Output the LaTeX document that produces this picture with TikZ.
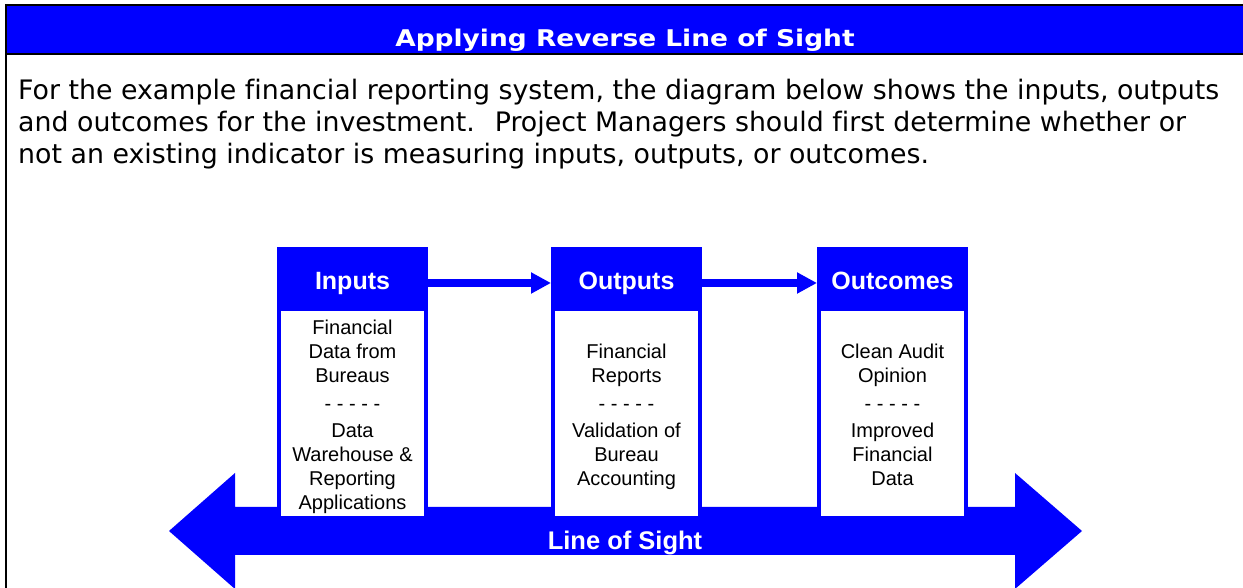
\documentclass[tikz,border=0pt]{standalone}
\usepackage{fontspec}
\setmainfont{Liberation Sans}
\newfontfamily\introfont{DejaVu Sans}[Ligatures=NoCommon]
\newfontfamily\titlefont{DejaVu Sans}[FakeStretch=1.15]
\usetikzlibrary{positioning,arrows.meta}
\definecolor{sightblue}{RGB}{0,0,255}

\begin{document}
\begin{tikzpicture}[%
    x=1pt, y=1pt,                          % work in points, origin bottom left
    >={Triangle[length=20pt,width=20pt]},  % fat heads for the flow arrows
    ]
% -------------------------------------------------
% Box styles: a blue heading with a framed white body under it
\tikzset{
  head/.style={fill=sightblue, text=white, outer sep=0pt,
    minimum width=151pt, minimum height=64pt, text height=22pt, text depth=0pt,
    font=\fontsize{25}{28}\selectfont\bfseries},
  body/.style={draw=sightblue, line width=4pt, fill=white,
    minimum width=147pt, minimum height=209pt},
  bodytext/.style={align=center, font=\fontsize{20}{24}\selectfont},
  flow/.style={->, draw=sightblue, line width=8pt},
  banner/.style={text=white, text depth=0pt,
    font=\titlefont\fontsize{23}{28}\selectfont\bfseries},
}
\useasboundingbox (0,0) rectangle (1243,588);
% -------------------------------------------------
% Banner and frame
\fill[sightblue] (6,583) rectangle (1243,534);
\draw[line width=2.5pt] (6,0) -- (6,583) -- (1243,583);
\draw[line width=2.5pt] (6,534) -- (1243,534);
\node[banner] (title) at (625,550) {Applying Reverse Line of Sight};
\node[anchor=north west, inner sep=0pt, align=left,
      font=\introfont\fontsize{26.8}{32}\selectfont] (intro) at (18,509)
  {For the example financial reporting system, the diagram below shows the inputs, outputs\\
   and outcomes for the investment.~ Project Managers should first determine whether or\\
   not an existing indicator is measuring inputs, outputs, or outcomes.};
% -------------------------------------------------
% The big two-way arrow along the bottom
\fill[sightblue] (169,57) -- (235,115) -- (235,81) -- (1015,81) -- (1015,115)
  -- (1082,57) -- (1015,-1) -- (1015,33) -- (235,33) -- (235,-1) -- cycle;
\node[text=white, text depth=0pt, font=\fontsize{25.5}{28}\selectfont\bfseries]
  (sight) at (625,48) {Line of Sight};
% -------------------------------------------------
% The three stages
\node[head] (inputs) at (352.5,309) {Inputs};
\node[head, right=123pt of inputs] (outputs) {Outputs};
\node[head, right=115pt of outputs] (outcomes) {Outcomes};

\node[body, below=-4pt of inputs] (inputsbody) {};
\node[body, below=-4pt of outputs] (outputsbody) {};
\node[body, below=-4pt of outcomes] (outcomesbody) {};

% the text sits a little below the middle of each body
\node[bodytext] (inputstext) at ([yshift=-3pt]inputsbody.center)
  {Financial\\Data from\\Bureaus\\[4pt]- - - - -\\[3pt]Data\\Warehouse \&\\Reporting\\Applications};
\node[bodytext] (outputstext) at ([yshift=-3pt]outputsbody.center)
  {Financial\\Reports\\[4pt]- - - - -\\[3pt]Validation of\\Bureau\\Accounting};
\node[bodytext] (outcomestext) at ([yshift=-1pt]outcomesbody.center)
  {Clean Audit\\Opinion\\[4pt]- - - - -\\[3pt]Improved\\Financial\\Data};

\draw[flow] ([yshift=-4pt]inputs.east) -- ([yshift=-4pt]outputs.west);
\draw[flow] ([yshift=-4pt]outputs.east) -- ([yshift=-4pt]outcomes.west);
% -------------------------------------------------
\end{tikzpicture}
\end{document}
